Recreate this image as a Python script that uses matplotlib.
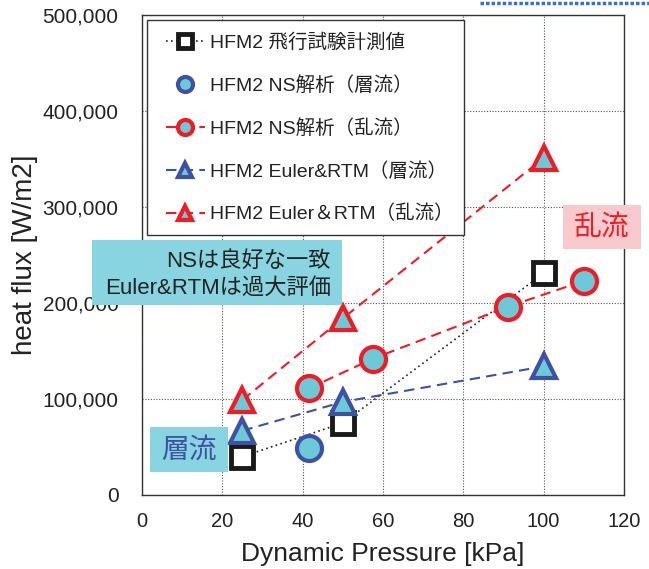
import matplotlib
matplotlib.use("Agg")
import matplotlib.pyplot as plt
from matplotlib.lines import Line2D
from matplotlib.patches import Rectangle
from matplotlib.ticker import FuncFormatter, MultipleLocator

plt.rcParams['font.family'] = ['Liberation Sans', 'Noto Sans CJK JP', 'DejaVu Sans']

# Data
flight_x = [25, 50, 100]
flight_y = [40000, 75000, 231000]
ns_lam_x = [41.5]
ns_lam_y = [49000]
ns_turb_x = [41.5, 57.5, 91, 110]
ns_turb_y = [111000, 142000, 196000, 223000]
eu_lam_x = [25, 50, 100]
eu_lam_y = [67000, 97000, 134000]
eu_turb_x = [25, 50, 100]
eu_turb_y = [99000, 184000, 351000]

labels = ["HFM2 飛行試験計測値", "HFM2 NS解析（層流）", "HFM2 NS解析（乱流）",
          "HFM2 Euler&RTM（層流）", "HFM2 Euler＆RTM（乱流）"]

CYAN = '#6CCAD8'
BLUE = '#3F51A3'
RED = '#EE1C25'
W, H = 649, 569

fig = plt.figure(figsize=(6.49, 5.69), dpi=100)
ax = fig.add_axes([142/W, 1-495/H, (624-142)/W, (495-15)/H])

ax.plot(flight_x, flight_y, linestyle=(0, (1, 2)), color='#222222', lw=1.2,
        marker='s', ms=16, mfc='white', mec='#1a1a1a', mew=3.5, label=labels[0], zorder=5)
ax.plot(ns_lam_x, ns_lam_y, linestyle='none', marker='o', ms=18, mfc=CYAN, mec=BLUE, mew=3,
        label=labels[1], zorder=5)
ax.plot(ns_turb_x, ns_turb_y, linestyle=(0, (5, 3)), color=RED, lw=1.5, marker='o', ms=18,
        mfc=CYAN, mec=RED, mew=3, label=labels[2], zorder=5)
ax.plot(eu_lam_x, eu_lam_y, linestyle=(0, (5, 3)), color=BLUE, lw=1.5, marker='^', ms=17,
        mfc=CYAN, mec=BLUE, mew=3, label=labels[3], zorder=5)
ax.plot(eu_turb_x, eu_turb_y, linestyle=(0, (5, 3)), color=RED, lw=1.5, marker='^', ms=17,
        mfc=CYAN, mec=RED, mew=3, label=labels[4], zorder=5)

ax.set_xlim(0, 120)
ax.set_ylim(0, 500000)
ax.xaxis.set_major_locator(MultipleLocator(20))
ax.yaxis.set_major_locator(MultipleLocator(100000))
ax.yaxis.set_major_formatter(FuncFormatter(lambda v, p: f"{int(v):,}"))
ax.grid(True, linestyle=(0, (1, 1.5)), color='#555555', lw=0.8)
ax.tick_params(length=0, labelsize=14.5, colors='#222222')
ax.tick_params(axis='x', pad=12)
ax.tick_params(axis='y', labelsize=15, pad=17)
for s in ax.spines.values():
    s.set_color('#333333')
    s.set_linewidth(1.0)

ax.set_xlabel("Dynamic Pressure [kPa]", fontsize=19, color='#222222', labelpad=8)
ax.set_ylabel("heat flux [W/m2]", fontsize=20, color='#222222', labelpad=3)

# legend frame
ax.add_patch(Rectangle(((147-142)/482, (495-235)/480), (464-147)/482, (235-20)/480,
                       transform=ax.transAxes, fc='white', ec='#333333', lw=1.0, zorder=6))
leg = ax.legend(loc='upper left', bbox_to_anchor=((166-142)/482, (495-33)/480), fontsize=14,
                markerscale=0.6, handlelength=2.0, labelspacing=1.25, borderpad=0.0,
                borderaxespad=0.0, handletextpad=0.25, frameon=False)
leg.set_zorder(7)
for t in leg.get_texts():
    t.set_color('#222222')

# annotation boxes
fig.add_artist(Rectangle((92/W, 1-305/H), (342-92)/W, (305-240)/H, transform=fig.transFigure,
                         fc='#88D4E1', ec='none', zorder=8))
fig.text(331/W, 1-261/H, "NSは良好な一致", ha='right', va='center', fontsize=16,
         color='#222222', zorder=9)
fig.text(331/W, 1-288/H, "Euler&RTMは過大評価", ha='right', va='center', fontsize=16,
         color='#222222', zorder=9)

fig.add_artist(Rectangle((150/W, 1-472/H), (228-150)/W, (472-427)/H, transform=fig.transFigure,
                         fc='#88D4E1', ec='none', zorder=8))
fig.text(189/W, 1-450/H, "層流", ha='center', va='center', fontsize=20, color=BLUE,
         family=['Noto Sans CJK JP'], zorder=9)
fig.add_artist(Rectangle((563/W, 1-249/H), (641-563)/W, (249-205)/H, transform=fig.transFigure,
                         fc='#F9C9CE', ec='none', zorder=8))
fig.text(602/W, 1-227/H, "乱流", ha='center', va='center', fontsize=20, color=RED,
         family=['Noto Sans CJK JP'], zorder=9)

# decorative dotted line top right
fig.add_artist(Line2D([480/W, 1.0], [1-3/H, 1-3/H], transform=fig.transFigure,
                      color='#3F6FC0', lw=2.5, linestyle=(0, (1, 0.6))))

fig.savefig("out.png", dpi=100)
